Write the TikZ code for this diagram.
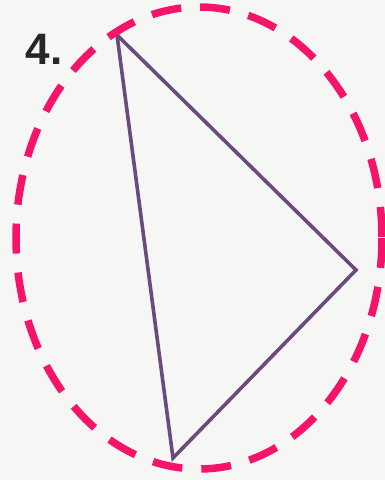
\documentclass[tikz,border=0pt]{standalone}
\usepackage{fontspec}
\setmainfont{Liberation Sans}
\definecolor{pinkdash}{HTML}{F5146A}
\definecolor{tripurple}{HTML}{6B4A7E}
\definecolor{paper}{HTML}{F6F6F4}
\begin{document}
\begin{tikzpicture}[x=1pt,y=-1pt,
  ring/.style={draw=pinkdash,line width=7.5pt,dash pattern=on 30pt off 19pt},
  tri/.style={draw=tripurple,line width=3.6pt,line join=miter},
  lbl/.style={font=\bfseries\fontsize{44}{48}\selectfont,text=black!85,inner sep=0pt}]
\fill[paper] (0,0) rectangle (385,480);
\useasboundingbox (0,0) rectangle (385,480);
\node[lbl] (num) at (44,49) {4.};
\coordinate (A) at (117,35);
\coordinate (B) at (356,270);
\coordinate (C) at (173,458);
\draw[tri] (A) -- (B) -- (C) -- cycle;
\draw[ring] (199,238) ellipse [x radius=183, y radius=231];
\end{tikzpicture}
\end{document}
